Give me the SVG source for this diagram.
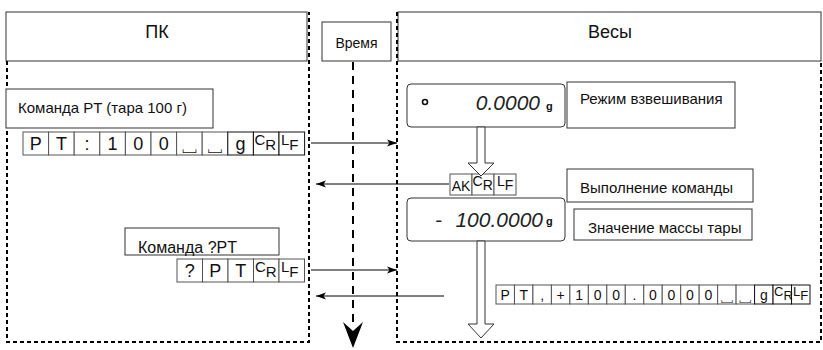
<svg xmlns="http://www.w3.org/2000/svg" width="823" height="350" viewBox="0 0 823 350">
<style>
text{font-family:"Liberation Sans",Arial,sans-serif;fill:#111}
.hdr{fill:#fff;stroke:#333;stroke-width:1}
.lbl{fill:#fff;stroke:#333;stroke-width:1}
.dash{fill:none;stroke:#000;stroke-width:2;stroke-dasharray:4 3}
.cell{fill:#fff;stroke:#555;stroke-width:1}
.cellb{fill:#fff;stroke:#111;stroke-width:1}
.c16{font-size:18px;text-anchor:middle}
.c13{font-size:14px;text-anchor:middle}
.sp{font-family:"Noto Sans CJK JP","DejaVu Sans",sans-serif;text-anchor:middle}
.t13{font-size:15px}
.disp{fill:#fff;stroke:#333;stroke-width:1}
.seg{font-style:italic;font-size:21px;fill:#222}
.conn{fill:none;stroke:#000;stroke-width:1}
.hollow{fill:#fff;stroke:#333;stroke-width:1}
</style>
<defs>
<marker id="arr" markerUnits="userSpaceOnUse" markerWidth="11" markerHeight="8" refX="10" refY="4" orient="auto">
<path d="M0,0.5 L10,4 L0,7.5 L2.5,4 z" fill="#000"/>
</marker>
</defs>
<g id="pc-lane">
<rect class="hdr" x="6" y="12" width="301" height="49"/>
<text x="157" y="38" font-size="18" text-anchor="middle">ПК</text>
<path class="dash" d="M7,61 V342 H309 V12"/>
</g>
<g id="time">
<rect class="hdr" x="322" y="22" width="69" height="39"/>
<text x="356.5" y="48" font-size="14" text-anchor="middle">Время</text>
</g>
<g id="scale-lane">
<rect class="hdr" x="398" y="12" width="423" height="49"/>
<text x="610" y="38" font-size="18" text-anchor="middle">Весы</text>
<path class="dash" d="M397,12 V342 H821 V61"/>
</g>
<g id="cmd-pt-label">
<rect class="lbl" x="6" y="89" width="207" height="39"/>
<text class="t13" x="18" y="113">Команда PT (тара 100 г)</text>
</g>
<g id="cmd-pt-cells">
<rect class="cell" x="23" y="132" width="25.6" height="23"/>
<rect class="cell" x="48.6" y="132" width="25.6" height="23"/>
<rect class="cell" x="74.2" y="132" width="25.6" height="23"/>
<rect class="cell" x="99.8" y="132" width="25.6" height="23"/>
<rect class="cell" x="125.4" y="132" width="25.6" height="23"/>
<rect class="cell" x="151" y="132" width="25.6" height="23"/>
<rect class="cell" x="176.6" y="132" width="25.6" height="23"/>
<rect class="cell" x="202.2" y="132" width="25.6" height="23"/>
<rect class="cellb" x="227.8" y="132" width="25.6" height="23"/>
<rect class="cellb" x="253.4" y="132" width="25.6" height="23"/>
<rect class="cellb" x="279" y="132" width="25.6" height="23"/>
<text class="c16" x="35.8" y="150">P</text>
<text class="c16" x="61.4" y="150">T</text>
<text class="c16" x="87" y="150">:</text>
<text class="c16" x="112.6" y="150">1</text>
<text class="c16" x="138.2" y="150">0</text>
<text class="c16" x="163.8" y="150">0</text>
<text class="sp" font-size="18" x="189.4" y="151">␣</text>
<text class="sp" font-size="18" x="215" y="151">␣</text>
<text class="c16" x="240.6" y="150">g</text>
<text font-size="15" x="254.5" y="145">C<tspan dy="4.5">R</tspan></text>
<text font-size="15" x="281" y="145">L<tspan dy="4.5">F</tspan></text>
</g>
<g id="weigh-display">
<rect class="disp" x="407" y="84" width="158" height="43" rx="4"/>
<circle cx="425" cy="102" r="2.5" fill="none" stroke="#111" stroke-width="1.6"/>
<text class="seg" x="540" y="110" text-anchor="end">0.0000</text>
<text x="546" y="110" font-size="11" font-weight="bold">g</text>
</g>
<g id="weigh-label">
<rect class="lbl" x="567" y="82" width="168" height="46"/>
<text class="t13" x="580" y="104">Режим взвешивания</text>
</g>
<g id="ack-cells">
<rect class="cell" x="450" y="174" width="22" height="21"/>
<rect class="cell" x="472" y="174" width="22" height="21"/>
<rect class="cell" x="494" y="174" width="22" height="21"/>
<text class="c13" x="461" y="191">AK</text>
<text font-size="14" x="472.5" y="186">C<tspan dy="4">R</tspan></text>
<text font-size="14" x="497" y="186">L<tspan dy="4">F</tspan></text>
</g>
<g id="exec-label">
<rect class="lbl" x="567" y="169" width="186" height="33"/>
<text class="t13" x="580" y="193">Выполнение команды</text>
</g>
<g id="tare-display">
<rect class="disp" x="407" y="198" width="158" height="43" rx="4"/>
<text class="seg" x="435" y="227">-</text>
<text class="seg" x="543" y="227" text-anchor="end">100.0000</text>
<text x="546" y="225" font-size="11" font-weight="bold">g</text>
</g>
<g id="tare-label">
<rect class="lbl" x="574" y="209" width="178" height="31"/>
<text class="t13" x="588" y="233">Значение массы тары</text>
</g>
<g id="cmd-qpt-label">
<rect class="lbl" x="125" y="228" width="154" height="27"/>
<text x="138" y="253" font-size="16">Команда ?PT</text>
</g>
<g id="cmd-qpt-cells">
<rect class="cell" x="177" y="259" width="25.5" height="23"/>
<rect class="cell" x="202.5" y="259" width="25.5" height="23"/>
<rect class="cell" x="228" y="259" width="25.5" height="23"/>
<rect class="cell" x="253.5" y="259" width="25.5" height="23"/>
<rect class="cell" x="279" y="259" width="25.5" height="23"/>
<text class="c16" x="189.7" y="277">?</text>
<text class="c16" x="215.2" y="277">P</text>
<text class="c16" x="240.7" y="277">T</text>
<text font-size="15" x="255" y="272">C<tspan dy="4.5">R</tspan></text>
<text font-size="15" x="281" y="272">L<tspan dy="4.5">F</tspan></text>
</g>
<g id="reply-cells">
<rect class="cell" x="496" y="285" width="18.47" height="19"/>
<rect class="cell" x="514.47" y="285" width="18.47" height="19"/>
<rect class="cell" x="532.94" y="285" width="18.47" height="19"/>
<rect class="cell" x="551.41" y="285" width="18.47" height="19"/>
<rect class="cell" x="569.88" y="285" width="18.47" height="19"/>
<rect class="cell" x="588.35" y="285" width="18.47" height="19"/>
<rect class="cell" x="606.82" y="285" width="18.47" height="19"/>
<rect class="cell" x="625.29" y="285" width="18.47" height="19"/>
<rect class="cell" x="643.76" y="285" width="18.47" height="19"/>
<rect class="cell" x="662.23" y="285" width="18.47" height="19"/>
<rect class="cell" x="680.7" y="285" width="18.47" height="19"/>
<rect class="cell" x="699.17" y="285" width="18.47" height="19"/>
<rect class="cell" x="717.64" y="285" width="18.47" height="19"/>
<rect class="cell" x="736.11" y="285" width="18.47" height="19"/>
<rect class="cellb" x="754.58" y="285" width="18.47" height="19"/>
<rect class="cellb" x="773.05" y="285" width="18.47" height="19"/>
<rect class="cellb" x="791.52" y="285" width="18.47" height="19"/>
<text class="c13" x="505.2" y="300">P</text>
<text class="c13" x="523.7" y="300">T</text>
<text class="c13" x="542.2" y="300">,</text>
<text class="c13" x="560.6" y="300">+</text>
<text class="c13" x="579.1" y="300">1</text>
<text class="c13" x="597.6" y="300">0</text>
<text class="c13" x="616.1" y="300">0</text>
<text class="c13" x="634.5" y="300">.</text>
<text class="c13" x="653" y="300">0</text>
<text class="c13" x="671.5" y="300">0</text>
<text class="c13" x="689.9" y="300">0</text>
<text class="c13" x="708.4" y="300">0</text>
<text class="sp" font-size="15" x="726.9" y="301">␣</text>
<text class="sp" font-size="15" x="745.3" y="301">␣</text>
<text class="c13" x="763.8" y="300">g</text>
<text font-size="13" x="774" y="296">C<tspan dy="4">R</tspan></text>
<text font-size="13" x="793" y="296">L<tspan dy="4">F</tspan></text>
</g>
<g id="connectors">
<path class="hollow" d="M477,127 H485 V163 H494 L481,176 L468,163 H477 Z"/>
<path class="hollow" d="M477,241 H485 V324 H494 L481,338 L468,324 H477 Z"/>
<line x1="353" y1="62" x2="353" y2="328" stroke="#000" stroke-width="2" stroke-dasharray="8 6"/>
<path d="M343,322 L353,348 L363,322 L353,331 Z" fill="#000"/>
<line class="conn" x1="311" y1="143" x2="397" y2="143" marker-end="url(#arr)"/>
<line class="conn" x1="449" y1="184" x2="316" y2="184" marker-end="url(#arr)"/>
<line class="conn" x1="311" y1="270" x2="397" y2="270" marker-end="url(#arr)"/>
<line class="conn" x1="444" y1="296" x2="316" y2="296" marker-end="url(#arr)"/>
</g>
</svg>
